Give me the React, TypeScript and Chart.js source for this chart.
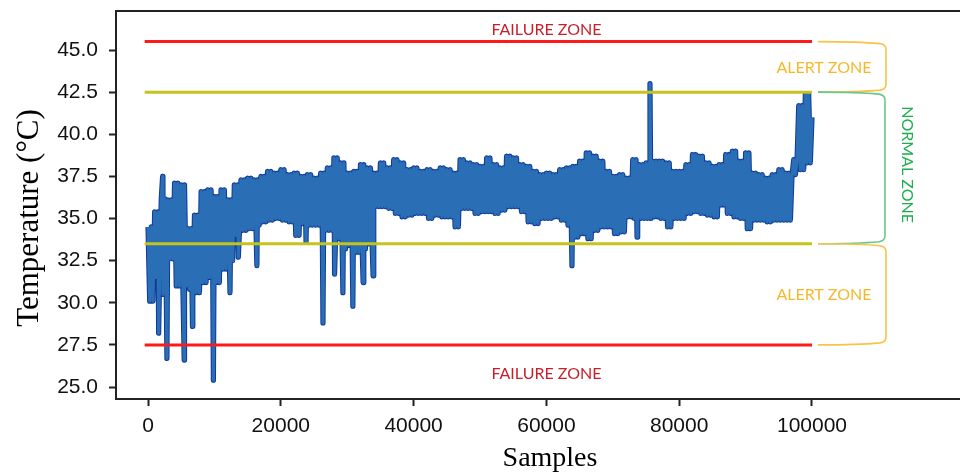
import React, { useEffect, useRef } from "react";
import { Chart, registerables } from "chart.js";

Chart.register(...registerables);

const SAMPLE_STEP = 1000;

// upper envelope of the temperature band, one reading per 1000-sample block (0 … 100000)
const upperTemps = [
  34.5, 35.4, 36.2, 36.1, 37.1, 37.0, 34.4, 35.2, 36.6, 36.7,
  36.3, 36.7, 36.1, 37.0, 37.3, 37.4, 37.3, 37.5, 37.8, 37.7,
  37.9, 37.6, 37.7, 37.5, 37.6, 37.4, 37.7, 38.0, 38.6, 38.3,
  37.7, 37.8, 38.2, 38.0, 37.7, 38.3, 38.0, 38.5, 38.3, 37.9,
  38.0, 37.8, 37.9, 37.8, 38.0, 37.9, 37.7, 38.5, 38.3, 38.2,
  38.1, 38.6, 38.2, 38.0, 38.7, 38.6, 38.2, 38.1, 37.8, 37.6,
  37.7, 37.6, 37.9, 38.0, 38.1, 38.4, 38.9, 38.7, 38.4, 37.8,
  37.5, 37.6, 37.4, 38.5, 38.2, 38.3, 38.4, 38.4, 38.3, 37.8,
  37.8, 38.2, 38.8, 38.7, 38.3, 38.1, 38.2, 38.8, 39.0, 38.4,
  38.9, 37.7, 37.6, 37.4, 37.6, 37.9, 37.7, 37.6, 41.7, 42.4,
  41.0,
];

// lower envelope of the band, one reading per 1000-sample block
const lowerTemps = [
  30.1, 31.5, 30.5, 32.6, 31.0, 31.0, 30.8, 30.6, 31.2, 31.5,
  31.2, 32.0, 32.5, 34.0, 34.3, 34.4, 34.6, 34.8, 34.9, 35.0,
  34.9, 34.8, 34.0, 34.7, 34.6, 34.6, 34.3, 34.3, 33.8, 33.2,
  33.4, 33.0, 33.2, 33.5, 35.7, 35.7, 35.6, 35.3, 35.1, 35.2,
  35.3, 35.3, 35.0, 35.2, 35.1, 35.1, 34.5, 35.6, 35.6, 35.3,
  35.4, 35.4, 35.3, 35.5, 35.7, 35.7, 35.4, 34.8, 34.7, 35.0,
  35.0, 35.1, 34.9, 34.6, 33.9, 34.1, 33.8, 34.3, 34.5, 34.5,
  34.1, 34.2, 35.1, 35.0, 35.0, 35.0, 35.1, 35.0, 34.5, 35.0,
  35.0, 35.3, 35.4, 35.3, 35.2, 35.1, 35.8, 35.3, 35.1, 35.0,
  34.4, 34.9, 34.9, 34.8, 34.9, 34.9, 34.9, 38.5, 37.9, 38.3,
];

// isolated excursions outside the band
const spikeSamples = [1600, 2200, 2850, 5450, 6700, 9850, 12350, 13600, 16400, 23800, 26350, 28100, 29350, 30850, 32400, 33900, 63850, 73650, 75600];
const spikeTemps = [28.2, 37.5, 26.7, 26.6, 28.6, 25.4, 30.6, 32.7, 32.2, 33.6, 28.8, 31.7, 30.6, 29.8, 31.2, 31.6, 32.2, 33.9, 43.0];

const xTicks = [0, 20000, 40000, 60000, 80000, 100000];
const yTicks = [25, 27.5, 30, 32.5, 35, 37.5, 40, 42.5, 45];

const thresholdSpan = [-500, 100000];
const failureLevels = [45.5, 27.5];
const alertLevels = [42.5, 33.5];

// zone label anchors (sample, temperature)
const failureLabelAt = [[60000, 46.22], [60000, 25.77]];
const alertLabelAt = [[101800, 43.96], [101800, 30.46]];
const normalLabelAt = [114300, 38.2];

const X_MIN = -4820;
const X_MAX = 122290;
const Y_MIN = 24.288;
const Y_MAX = 47.315;

// each 1000-sample block oscillates between its upper and lower reading; spikes are merged in
function buildSeries() {
  const pts: { x: number; y: number }[] = [];
  upperTemps.forEach((hi, i) => {
    const x0 = i * SAMPLE_STEP;
    pts.push({ x: x0, y: hi });
    if (i < lowerTemps.length) {
      const lo = lowerTemps[i];
      pts.push({ x: x0 + SAMPLE_STEP * 0.25, y: lo });
      pts.push({ x: x0 + SAMPLE_STEP * 0.5, y: hi });
      pts.push({ x: x0 + SAMPLE_STEP * 0.75, y: lo });
    }
  });
  spikeSamples.forEach((sx, k) => pts.push({ x: sx, y: spikeTemps[k] }));
  pts.sort((a, b) => a.x - b.x);
  return pts;
}

function levelLine(level: number) {
  return [
    { x: thresholdSpan[0], y: level },
    { x: thresholdSpan[1], y: level },
  ];
}

function drawBrace(ctx: CanvasRenderingContext2D, x0: number, x1: number, yT: number, yB: number, color: string) {
  ctx.beginPath();
  ctx.strokeStyle = color;
  ctx.lineWidth = 1.6;
  ctx.moveTo(x0, yT);
  ctx.quadraticCurveTo(x0 + 40, yT, x1 - 6, yT + 2);
  ctx.quadraticCurveTo(x1, yT + 3, x1, yT + 8);
  ctx.lineTo(x1, yB - 8);
  ctx.quadraticCurveTo(x1, yB - 3, x1 - 6, yB - 2);
  ctx.quadraticCurveTo(x0 + 40, yB, x0, yB);
  ctx.stroke();
}

const zonePlugin = {
  id: "zones",
  afterDraw(chart: any) {
    const { ctx, chartArea } = chart;
    const xs = chart.scales.x;
    const ys = chart.scales.y;
    ctx.save();
    // top frame line
    ctx.strokeStyle = "#222";
    ctx.lineWidth = 2;
    ctx.beginPath();
    ctx.moveTo(chartArea.left - 1, chartArea.top);
    ctx.lineTo(chartArea.right, chartArea.top);
    ctx.stroke();

    ctx.font = "16px Lato";
    ctx.textAlign = "center";
    ctx.textBaseline = "middle";
    ctx.fillStyle = "#c8202a";
    failureLabelAt.forEach(([sx, t]) => {
      ctx.fillText("FAILURE ZONE", xs.getPixelForValue(sx), ys.getPixelForValue(t));
    });
    ctx.fillStyle = "#f5b82a";
    alertLabelAt.forEach(([sx, t]) => {
      ctx.fillText("ALERT ZONE", xs.getPixelForValue(sx), ys.getPixelForValue(t));
    });

    const bx0 = xs.getPixelForValue(thresholdSpan[1]) + 6;
    const bx1 = bx0 + 68;
    drawBrace(ctx, bx0, bx1, ys.getPixelForValue(failureLevels[0]), ys.getPixelForValue(alertLevels[0]), "#f7c444");
    drawBrace(ctx, bx0, bx1 - 1, ys.getPixelForValue(alertLevels[0]), ys.getPixelForValue(alertLevels[1]), "#6cc68a");
    drawBrace(ctx, bx0, bx1, ys.getPixelForValue(alertLevels[1]), ys.getPixelForValue(failureLevels[1]), "#f7c444");

    ctx.save();
    ctx.translate(xs.getPixelForValue(normalLabelAt[0]), ys.getPixelForValue(normalLabelAt[1]));
    ctx.rotate(Math.PI / 2);
    ctx.fillStyle = "#1fae4f";
    ctx.fillText("NORMAL ZONE", 0, 0);
    ctx.restore();

    // axis titles
    ctx.fillStyle = "#000";
    ctx.font = "28px 'Liberation Serif'";
    ctx.textBaseline = "alphabetic";
    ctx.fillText("Samples", 550, 466);
    ctx.save();
    ctx.translate(38, 218);
    ctx.rotate(-Math.PI / 2);
    ctx.font = "31px 'Liberation Serif'";
    ctx.fillText("Temperature (°C)", 0, 0);
    ctx.restore();

    ctx.restore();
  },
};

export default function App() {
  const ref = useRef<HTMLCanvasElement>(null);
  useEffect(() => {
    if (!ref.current) return;
    const series = buildSeries();
    const tickFont = { family: "'Liberation Sans', Arial, sans-serif", size: 21 };
    const axisGrid = {
      drawOnChartArea: false,
      drawTicks: true,
      tickLength: 7,
      tickWidth: 2,
      color: "#222",
      tickColor: "#222",
    };
    const chart = new Chart(ref.current, {
      type: "line",
      data: {
        datasets: [
          ...failureLevels.map((lv) => ({
            data: levelLine(lv),
            borderColor: "#ff1a1a",
            borderWidth: 3,
            pointRadius: 0,
            order: 0,
          })),
          ...alertLevels.map((lv) => ({
            data: levelLine(lv),
            borderColor: "#c4c41c",
            borderWidth: 3,
            pointRadius: 0,
            order: 0,
          })),
          {
            data: series,
            borderColor: "#2a6fb5",
            borderWidth: 3.2,
            borderJoinStyle: "round",
            pointRadius: 0,
            order: 1,
          },
          {
            data: series,
            borderColor: "#0f3a9c",
            borderWidth: 5.2,
            borderJoinStyle: "round",
            pointRadius: 0,
            order: 2,
          },
        ],
      },
      options: {
        animation: false,
        responsive: false,
        devicePixelRatio: 1,
        parsing: false,
        layout: { padding: { top: 11, right: 0, bottom: 0, left: 0 } },
        plugins: { legend: { display: false }, tooltip: { enabled: false } },
        scales: {
          x: {
            type: "linear",
            min: X_MIN,
            max: X_MAX,
            afterBuildTicks: (s: any) => {
              s.ticks = xTicks.map((v) => ({ value: v }));
            },
            afterFit: (s: any) => {
              s.height = 75;
              s.paddingLeft = 0;
              s.paddingRight = 0;
            },
            ticks: {
              autoSkip: false,
              maxRotation: 0,
              padding: 8,
              color: "#111",
              font: tickFont,
              callback: (v: any) => String(v),
            },
            grid: axisGrid,
            border: { display: true, color: "#222", width: 2 },
          },
          y: {
            type: "linear",
            min: Y_MIN,
            max: Y_MAX,
            afterBuildTicks: (s: any) => {
              s.ticks = yTicks.map((v) => ({ value: v }));
            },
            afterFit: (s: any) => {
              s.width = 116;
              s.paddingTop = 0;
              s.paddingBottom = 0;
            },
            ticks: {
              padding: 11,
              color: "#111",
              font: tickFont,
              callback: (v: any) => Number(v).toFixed(1),
            },
            grid: axisGrid,
            border: { display: true, color: "#222", width: 2 },
          },
        },
      },
      plugins: [zonePlugin],
    } as any);
    return () => chart.destroy();
  }, []);
  return (
    <div style={{ position: "absolute", left: 0, top: 0, width: 960, height: 474, background: "#fff" }}>
      <canvas ref={ref} width={960} height={474} style={{ display: "block" }} />
    </div>
  );
}
